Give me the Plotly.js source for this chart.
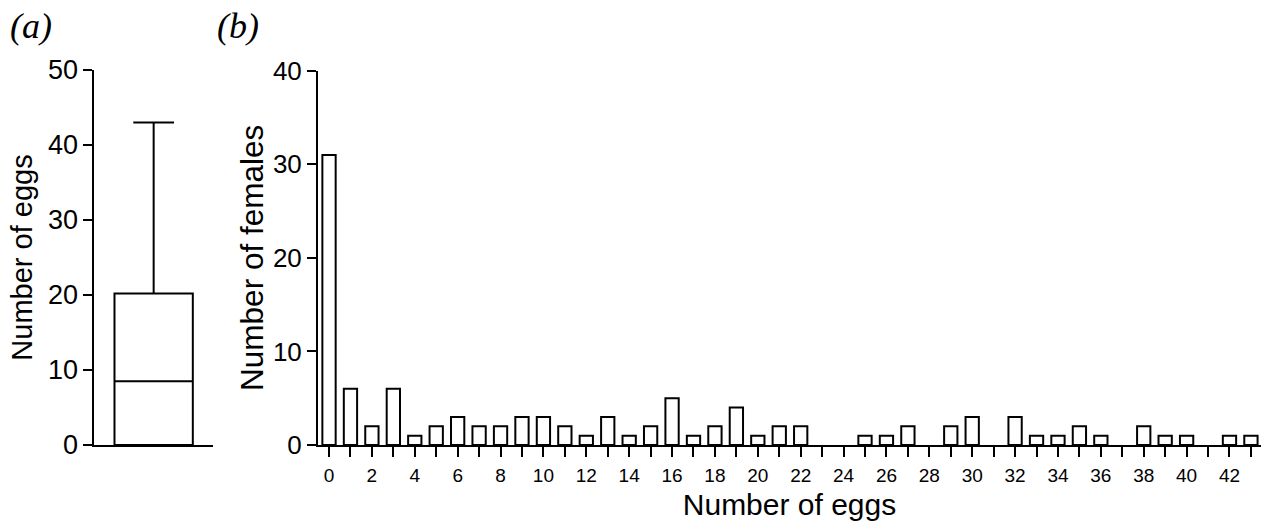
<!DOCTYPE html>
<html>
<head>
<meta charset="utf-8">
<script src="https://cdn.plot.ly/plotly-3.0.1.min.js"></script>
<style>html,body{margin:0;padding:0;background:#fff;}#chart{width:1261px;height:522px;}</style>
</head>
<body>
<div id="chart"></div>
<script>
// Panel (a): box plot summary of number of eggs
const boxLabel = ['Eggs'];
const boxQ1 = [0];
const boxMedian = [8.5];
const boxQ3 = [20.2];
const boxMin = [0];
const boxMax = [43];

// Panel (b): histogram counts
const eggCounts = [0,1,2,3,4,5,6,7,8,9,10,11,12,13,14,15,16,17,18,19,20,21,22,23,24,25,26,27,28,29,30,31,32,33,34,35,36,37,38,39,40,41,42,43];
const femaleCounts = [31,6,2,6,1,2,3,2,2,3,3,2,1,3,1,2,5,1,2,4,1,2,2,0,0,1,1,2,0,2,3,0,3,1,1,2,1,0,2,1,1,0,1,1];

const font = 'Arial, "Liberation Sans", sans-serif';

const traces = [
  {
    type: 'box',
    x: [0],
    q1: boxQ1, median: boxMedian, q3: boxQ3,
    lowerfence: boxMin, upperfence: boxMax,
    name: boxLabel[0],
    width: 1.32,
    whiskerwidth: 0.52,
    fillcolor: '#ffffff',
    line: {color: '#000000', width: 2},
    boxpoints: false,
    xaxis: 'x', yaxis: 'y',
    hoverinfo: 'skip',
    showlegend: false
  },
  {
    type: 'bar',
    x: eggCounts,
    y: femaleCounts,
    width: 0.62,
    marker: {color: '#ffffff', line: {color: '#000000', width: femaleCounts.map(v => v > 0 ? 2 : 0)}},
    xaxis: 'x2', yaxis: 'y2',
    hoverinfo: 'skip',
    showlegend: false
  }
];

const layout = {
  width: 1261, height: 522,
  margin: {l: 0, r: 0, t: 0, b: 0},
  paper_bgcolor: '#ffffff', plot_bgcolor: '#ffffff',
  font: {family: font, color: '#000000'},
  showlegend: false,
  xaxis: {
    domain: [0.0748, 0.1689], range: [-1, 1],
    showline: true, linecolor: '#000', linewidth: 2,
    showticklabels: false, ticks: '', showgrid: false, zeroline: false,
    fixedrange: true
  },
  yaxis: {
    domain: [0.1475, 0.8659], range: [0, 50],
    showline: true, linecolor: '#000', linewidth: 2,
    ticks: 'outside', ticklen: 9, tickwidth: 2, tickcolor: '#000',
    tick0: 0, dtick: 10, showgrid: false, zeroline: false,
    tickfont: {family: font, size: 27, color: '#000'},
    title: {text: 'Number of eggs', font: {family: font, size: 29, color: '#000'}, standoff: 7},
    fixedrange: true
  },
  xaxis2: {
    domain: [0.2522, 1.0], range: [-0.513, 43.47],
    showline: true, linecolor: '#000', linewidth: 2,
    ticks: 'outside', ticklen: 10, tickwidth: 2, tickcolor: '#000',
    tick0: 0, dtick: 2,
    minor: {dtick: 1, ticks: 'outside', ticklen: 10, tickwidth: 2, tickcolor: '#000', showgrid: false},
    showgrid: false, zeroline: false,
    ticklabelstandoff: 2,
    tickfont: {family: font, size: 19, color: '#000'},
    title: {text: 'Number of eggs', font: {family: font, size: 30, color: '#000'}, standoff: 9},
    anchor: 'y2',
    fixedrange: true
  },
  yaxis2: {
    domain: [0.1475, 0.8646], range: [0, 40],
    showline: true, linecolor: '#000', linewidth: 2,
    ticks: 'outside', ticklen: 9, tickwidth: 2, tickcolor: '#000',
    tick0: 0, dtick: 10, showgrid: false, zeroline: false,
    tickfont: {family: font, size: 26, color: '#000'},
    title: {text: 'Number of females', font: {family: font, size: 31.5, color: '#000'}, standoff: 0},
    anchor: 'x2',
    fixedrange: true
  },
  annotations: [
    {text: '<i>(a)</i>', xref: 'paper', yref: 'paper', x: 8/1261, y: 1 - 4/522, xanchor: 'left', yanchor: 'top', showarrow: false,
     font: {family: '"Liberation Serif", "Times New Roman", serif', size: 36, color: '#000'}},
    {text: '<i>(b)</i>', xref: 'paper', yref: 'paper', x: 215/1261, y: 1 - 4/522, xanchor: 'left', yanchor: 'top', showarrow: false,
     font: {family: '"Liberation Serif", "Times New Roman", serif', size: 36, color: '#000'}}
  ]
};

Plotly.newPlot('chart', traces, layout, {displayModeBar: false, staticPlot: true});
</script>
</body>
</html>
